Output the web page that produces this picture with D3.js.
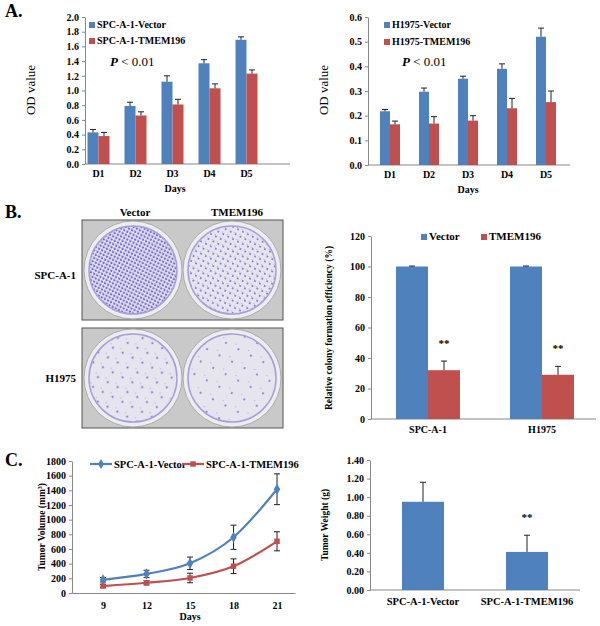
<!DOCTYPE html>
<html><head><meta charset="utf-8">
<script src="https://cdn.jsdelivr.net/npm/d3@7"></script>
<style>body{margin:0;background:#fff} svg text{font-family:'Liberation Serif','Times New Roman',Times,serif !important}</style>
</head><body>
<script>
const days = ["D1","D2","D3","D4","D5"];
const spcVec = [0.43,0.79,1.12,1.37,1.69], spcVecErr=[0.04,0.05,0.08,0.05,0.04];
const spcTm = [0.38,0.66,0.81,1.03,1.23], spcTmErr=[0.05,0.05,0.07,0.06,0.05];
const hVec = [0.218,0.297,0.35,0.39,0.52], hVecErr=[0.007,0.015,0.01,0.02,0.035];
const hTm = [0.165,0.168,0.18,0.23,0.255], hTmErr=[0.013,0.028,0.02,0.04,0.045];
const colonyCats = ["SPC-A-1","H1975"];
const colonyVec = [100,100], colonyVecErr=[0.3,0.3];
const colonyTm = [32,29], colonyTmErr=[6,5.5];
const tDays = [9,12,15,18,21];
const tvVec = [180,260,405,760,1415], tvVecErr=[30,50,85,165,210];
const tvTm = [95,140,205,365,705], tvTmErr=[20,30,65,100,130];
const wCats = ["SPC-A-1-Vector","SPC-A-1-TMEM196"];
const wVal = [0.95,0.41], wErr=[0.21,0.18];
const BLUE="#4f81bd", RED="#c0504d";
const FF="'Liberation Serif','Times New Roman',serif";

const svg=d3.select("body").append("svg").attr("width",600).attr("height",626).attr("font-family",FF);
function T(x,y,s,o={}){const t=svg.append("text").attr("x",x).attr("y",y).text(s).attr("font-family",FF)
 .attr("font-size",o.size||10).attr("font-weight",o.w||"bold").attr("text-anchor",o.a||"start").attr("fill","#000");
 if(o.rot) t.attr("transform",`rotate(-90,${x},${y})`); if(o.it) t.attr("font-style","italic"); return t;}
function yAxis(y,x,ticks,fmt){const g=svg.append("g").attr("transform",`translate(${x},0)`)
 .call(d3.axisLeft(y).tickValues(ticks).tickFormat(fmt).tickSize(3).tickSizeOuter(0));
 g.attr("font-family",FF);g.selectAll("text").attr("font-size",10).attr("font-weight","bold").attr("font-family",FF);
 g.selectAll("path,line").attr("stroke","#888");}
function baseline(x1,x2,y){svg.append("line").attr("x1",x1).attr("x2",x2).attr("y1",y).attr("y2",y).attr("stroke","#888");}
function errBars(xs,vals,errs,y){vals.forEach((v,i)=>{const x=xs[i],y1=y(v),y2=y(v+errs[i]);
 svg.append("line").attr("x1",x).attr("x2",x).attr("y1",y1).attr("y2",y2).attr("stroke","#222");
 svg.append("line").attr("x1",x-3).attr("x2",x+3).attr("y1",y2).attr("y2",y2).attr("stroke","#222");});}
function groupBars(x,y,cats,s1,e1,s2,e2,bw){
 cats.forEach((c,i)=>{const cx=x(c)+x.bandwidth()/2;
  svg.append("rect").attr("x",cx-bw).attr("width",bw).attr("y",y(s1[i])).attr("height",y(0)-y(s1[i])).attr("fill",BLUE);
  svg.append("rect").attr("x",cx).attr("width",bw).attr("y",y(s2[i])).attr("height",y(0)-y(s2[i])).attr("fill",RED);});
 errBars(cats.map(c=>x(c)+x.bandwidth()/2-bw/2),s1,e1,y);
 errBars(cats.map(c=>x(c)+x.bandwidth()/2+bw/2),s2,e2,y);}
function xLabels(x,cats,y,size){cats.forEach(c=>T(x(c)+x.bandwidth()/2,y,c,{a:"middle",size:size||10}));}
function legendSq(x,y,col,label,size){svg.append("rect").attr("x",x).attr("y",y-6).attr("width",6).attr("height",6).attr("fill",col);
 T(x+8,y,label,{size:size||10});}

// Panel A left
T(5,17,"A.",{size:18});
{const x=d3.scaleBand().domain(days).range([80,265]);const y=d3.scaleLinear().domain([0,2]).range([164,17]);
 yAxis(y,85,d3.range(0,2.01,0.2),d3.format(".1f"));baseline(85,290,164);
 groupBars(x,y,days,spcVec,spcVecErr,spcTm,spcTmErr,11);xLabels(x,days,177);
 T(175,192,"Days",{a:"middle"});T(35,90,"OD value",{rot:1,a:"middle",size:13,w:"normal"});
 legendSq(89,28,BLUE,"SPC-A-1-Vector");legendSq(89,44,RED,"SPC-A-1-TMEM196");
 const p=T(110,66,"",{size:13});p.append("tspan").attr("font-style","italic").text("P");p.append("tspan").attr("font-weight","normal").text(" < 0.01");}
// Panel A right
{const x=d3.scaleBand().domain(days).range([370.5,565.5]);const y=d3.scaleLinear().domain([0,0.6]).range([165,17]);
 yAxis(y,368,d3.range(0,0.61,0.1),d3.format(".1f"));baseline(368,570,165);
 groupBars(x,y,days,hVec,hVecErr,hTm,hTmErr,10);xLabels(x,days,178);
 T(468,193,"Days",{a:"middle"});T(328,90,"OD value",{rot:1,a:"middle",size:13,w:"normal"});
 legendSq(384,28,BLUE,"H1975-Vector");legendSq(384,45,RED,"H1975-TMEM196");
 const p=T(402,66,"",{size:13});p.append("tspan").attr("font-style","italic").text("P");p.append("tspan").attr("font-weight","normal").text(" < 0.01");}

// Panel B photos
T(5,218,"B.",{size:18});T(135,216,"Vector",{a:"middle",size:11});T(237,216,"TMEM196",{a:"middle",size:11});
T(76,279,"SPC-A-1",{a:"end",size:11});T(76,382,"H1975",{a:"end",size:11});
const defs=svg.append("defs");
const dens=[["d1",3.5,1.1],["d2",5.5,0.9],["d3",11,1.0],["d4",14,0.9]];
dens.forEach(([id,s,r])=>{const p=defs.append("pattern").attr("id",id).attr("width",s).attr("height",s).attr("patternUnits","userSpaceOnUse").attr("patternTransform","rotate(27)");
 p.append("rect").attr("width",s).attr("height",s).attr("fill","#e6e5ee");
 p.append("circle").attr("cx",s/2).attr("cy",s/2).attr("r",r).attr("fill","#6f62d0");
 p.append("circle").attr("cx",s/5).attr("cy",s/4).attr("r",r*0.6).attr("fill","#9a90dc");});
[[220,["d1","d2"]],[328,["d3","d4"]]].forEach(([top,ids])=>{
 svg.append("rect").attr("x",82).attr("y",top).attr("width",201).attr("height",100).attr("fill","#c9c9c9").attr("stroke","#555");
 [133,232].forEach((cx,i)=>{svg.append("circle").attr("cx",cx).attr("cy",top+50).attr("r",49).attr("fill","#ededed").attr("stroke","#aaa");
  svg.append("circle").attr("cx",cx).attr("cy",top+50).attr("r",44).attr("fill",`url(#${ids[i]})`).attr("stroke","#a79fdc").attr("stroke-width",1.5);});});

// Panel B chart
{const x=d3.scaleBand().domain(colonyCats).range([371,599]);const y=d3.scaleLinear().domain([0,120]).range([419,236]);
 yAxis(y,371,d3.range(0,121,20),d3.format("d"));baseline(371,596,419);
 groupBars(x,y,colonyCats,colonyVec,colonyVecErr,colonyTm,colonyTmErr,32);xLabels(x,colonyCats,433);
 colonyCats.forEach((c,i)=>T(x(c)+x.bandwidth()/2+16,y(colonyTm[i]+colonyTmErr[i])-14,"**",{a:"middle",size:11}));
 T(332,328,"Relative colony formation  efficiency (%)",{rot:1,a:"middle",size:9.5});
 legendSq(421,240,BLUE,"Vector",11);legendSq(481,240,RED,"TMEM196",11);}

// Panel C line
T(5,466,"C.",{size:18});
{const x=d3.scaleLinear().domain([6.86,22.24]).range([72,295]);const y=d3.scaleLinear().domain([0,1800]).range([593,461]);
 yAxis(y,72,d3.range(0,1801,200),d3.format("d"));
 const g=svg.append("g").attr("transform","translate(0,593)").call(d3.axisBottom(x).tickValues(tDays).tickSize(0).tickFormat(d3.format("d")));
 g.selectAll("text").attr("font-size",10).attr("font-weight","bold").attr("font-family",FF).attr("dy","1.3em");g.select("path").attr("stroke","#888");
 [[tvVec,tvVecErr,BLUE,"d"],[tvTm,tvTmErr,RED,"s"]].forEach(([v,e,c,m])=>{
  v.forEach((val,i)=>{const xx=x(tDays[i]);[[val,val+e[i]],[val,val-e[i]]].forEach(([a,b])=>{
   svg.append("line").attr("x1",xx).attr("x2",xx).attr("y1",y(a)).attr("y2",y(b)).attr("stroke","#222");
   svg.append("line").attr("x1",xx-3).attr("x2",xx+3).attr("y1",y(b)).attr("y2",y(b)).attr("stroke","#222");});});
  svg.append("path").attr("d",d3.line().x((d,i)=>x(tDays[i])).y(d=>y(d)).curve(d3.curveMonotoneX)(v)).attr("fill","none").attr("stroke",c).attr("stroke-width",2.2);
  v.forEach((val,i)=>{const sym=d3.symbol().type(m=="d"?d3.symbolDiamond:d3.symbolSquare).size(m=="d"?36:30);
   svg.append("path").attr("d",sym()).attr("transform",`translate(${x(tDays[i])},${y(val)})`).attr("fill",c);});});
 [[90,BLUE,"SPC-A-1-Vector","d"],[182,RED,"SPC-A-1-TMEM196","s"]].forEach(([lx,c,l,m])=>{
  svg.append("line").attr("x1",lx).attr("x2",lx+22).attr("y1",464).attr("y2",464).attr("stroke",c).attr("stroke-width",2.2);
  svg.append("path").attr("d",d3.symbol().type(m=="d"?d3.symbolDiamond:d3.symbolSquare).size(30)()).attr("transform",`translate(${lx+11},464)`).attr("fill",c);
  T(lx+24,468,l,{size:10.5});});
 T(190,620,"Days",{a:"middle"});
 const yl=T(45,527,"Tumor  Volume (mm",{rot:1,a:"middle",size:9.5});yl.append("tspan").attr("baseline-shift","super").attr("font-size",6).text("3");yl.append("tspan").text(")");}

// Panel C bars
{const x=d3.scaleBand().domain(wCats).range([371,579]);const y=d3.scaleLinear().domain([0,1.4]).range([590,460]);
 yAxis(y,370,d3.range(0,1.41,0.2),d3.format(".2f"));baseline(370,580,590);
 wCats.forEach((c,i)=>{const cx=x(c)+x.bandwidth()/2;svg.append("rect").attr("x",cx-21).attr("width",42).attr("y",y(wVal[i])).attr("height",y(0)-y(wVal[i])).attr("fill",BLUE);});
 errBars(wCats.map(c=>x(c)+x.bandwidth()/2),wVal,wErr,y);xLabels(x,wCats,605,10.5);
 T(x(wCats[1])+x.bandwidth()/2,y(wVal[1]+wErr[1])-14,"**",{a:"middle",size:11});
 T(328,525,"Tumor Weight (g)",{rot:1,a:"middle",size:9.5});}
</script></body></html>
